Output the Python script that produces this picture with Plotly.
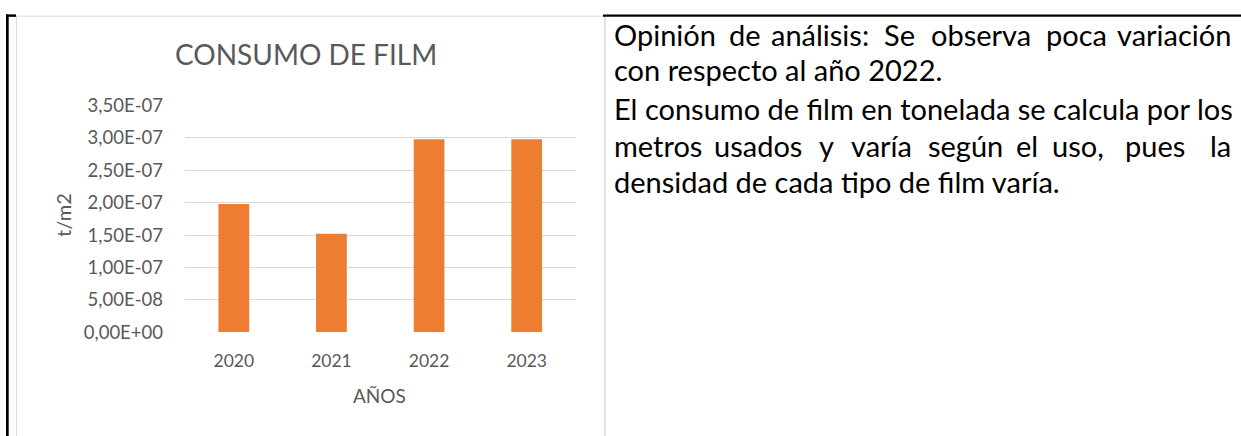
import plotly.graph_objects as go

# ---------------- data ----------------
years = ["2020", "2021", "2022", "2023"]
consumo = [1.98e-07, 1.52e-07, 2.98e-07, 2.98e-07]
y_tickvals = [0, 5e-08, 1e-07, 1.5e-07, 2e-07, 2.5e-07, 3e-07, 3.5e-07]
y_ticktext = ["0,00E+00", "5,00E-08", "1,00E-07", "1,50E-07",
              "2,00E-07", "2,50E-07", "3,00E-07", "3,50E-07"]
chart_title = "CONSUMO DE FILM"
x_title = "AÑOS"
y_title = "t/m2"

line1_words = ["Opinión", "de", "análisis:", "Se", "observa", "poca", "variación"]
line2 = "con respecto al año 2022."
line3 = "El consumo de film en tonelada se calcula por los"
line4_words = ["metros", "usados", "y", "varía", "según", "el", "uso,", "pues", "la"]
line5 = "densidad de cada tipo de film varía."

# ---------------- layout helpers ----------------
W, H = 1241, 446
FONT = "Lato"
GREY_TXT = "#595959"
GRID = "#d9d9d9"

# the photographed picture maps page y -> 9.1 + 0.96 * y ; positions below are
# given in picture pixels and converted back to page pixels
Y_OFF, Y_SCALE = 9.1, 0.96


def px(x):
    return x / W


def py(y):
    return 1 - ((y - Y_OFF) / Y_SCALE) / H


plot_left, plot_right = 185, 575.5
plot_bottom, plot_top = 332.5, 103.5

fig = go.Figure()
fig.add_trace(go.Bar(
    x=years, y=consumo,
    marker=dict(color="#ED7D31", line=dict(width=0)),
    hoverinfo="x+y",
))

fig.update_layout(
    width=W, height=H,
    margin=dict(l=0, r=0, t=0, b=0),
    paper_bgcolor="white", plot_bgcolor="white",
    showlegend=False,
    bargap=0.685,
    font=dict(family=FONT, color=GREY_TXT),
    xaxis=dict(
        domain=[px(plot_left), px(plot_right)],
        type="category", range=[-0.5, 3.5],
        showgrid=False, showline=False, zeroline=False,
        ticks="", ticklabelstandoff=16,
        tickfont=dict(family=FONT, size=17.5, color=GREY_TXT),
        fixedrange=True,
    ),
    yaxis=dict(
        domain=[py(plot_bottom), py(plot_top)],
        range=[0, 3.5e-07],
        tickvals=y_tickvals, ticktext=y_ticktext,
        showgrid=True, gridcolor=GRID, gridwidth=1,
        zeroline=False, showline=False,
        ticks="", ticklabelstandoff=21,
        tickfont=dict(family=FONT, size=18.5, color=GREY_TXT),
        fixedrange=True,
    ),
)

annotations = []
annotations.append(dict(text=chart_title, x=px(306), y=py(52), xref="paper", yref="paper",
                        xanchor="center", yanchor="middle", showarrow=False,
                        font=dict(family=FONT, size=28, color=GREY_TXT)))
annotations.append(dict(text=x_title, x=px(379), y=py(396), xref="paper", yref="paper",
                        xanchor="center", yanchor="middle", showarrow=False,
                        font=dict(family=FONT, size=19, color=GREY_TXT)))
annotations.append(dict(text=y_title, x=px(63), y=py(214), xref="paper", yref="paper",
                        xanchor="center", yanchor="middle", showarrow=False, textangle=-90,
                        font=dict(family=FONT, size=20, color=GREY_TXT)))

# paragraph on the right
TXT_SIZE = 29
line_y = [31.5, 67, 106.5, 143.5, 180.5]
left_x, right_x = 613, 1232
line1_cx = [None, 745, 820, 899, 981.4, 1076, None]
line4_cx = [None, 758, 826, 882, 965.9, 1027.4, 1078, 1155, None]


def add_text(t, x, y, anchor="left"):
    annotations.append(dict(text=t, x=px(x), y=py(y), xref="paper", yref="paper",
                            xanchor=anchor, yanchor="middle", showarrow=False,
                            borderpad=0,
                            font=dict(family=FONT, size=TXT_SIZE, color="#000000")))


def add_justified(words, centres, y):
    n = len(words)
    for i, (w, c) in enumerate(zip(words, centres)):
        if i == 0:
            add_text(w, left_x, y, "left")
        elif i == n - 1:
            add_text(w, right_x, y, "right")
        else:
            add_text(w, c, y, "center")


add_justified(line1_words, line1_cx, line_y[0])
add_text(line2, left_x, line_y[1])
add_text(line3, left_x, line_y[2])
add_justified(line4_words, line4_cx, line_y[3])
add_text(line5, left_x, line_y[4])

fig.update_layout(annotations=annotations)

# table borders / chart frame
shapes = [
    dict(type="line", x0=px(16.5), x1=px(16.5), y0=py(13), y1=py(450), line=dict(color=GRID, width=1)),
    dict(type="line", x0=px(16.5), x1=px(605), y0=py(13.3), y1=py(13.3), line=dict(color=GRID, width=1)),
    dict(type="line", x0=px(605), x1=px(605), y0=py(13), y1=py(450), line=dict(color=GRID, width=1.5)),
    dict(type="rect", x0=px(6), x1=px(8.7), y0=py(11.5), y1=py(450), fillcolor="black", line=dict(width=0)),
    dict(type="rect", x0=px(6), x1=px(16), y0=py(11.5), y1=py(14), fillcolor="black", line=dict(width=0)),
    dict(type="rect", x0=px(603), x1=px(1245), y0=py(11.5), y1=py(14), fillcolor="black", line=dict(width=0)),
]
for s in shapes:
    s.update(xref="paper", yref="paper", layer="above")
fig.update_layout(shapes=shapes)

post = ("document.documentElement.style.margin='0';"
        "document.body.style.margin='0';"
        "document.documentElement.style.overflow='hidden';"
        "document.body.style.overflow='hidden';"
        "var gd=document.getElementById('{plot_id}');"
        "gd.style.position='fixed';gd.style.left='0px';gd.style.top='0px';")

fig.write_html("out.html", config={"displayModeBar": False}, post_script=post)
